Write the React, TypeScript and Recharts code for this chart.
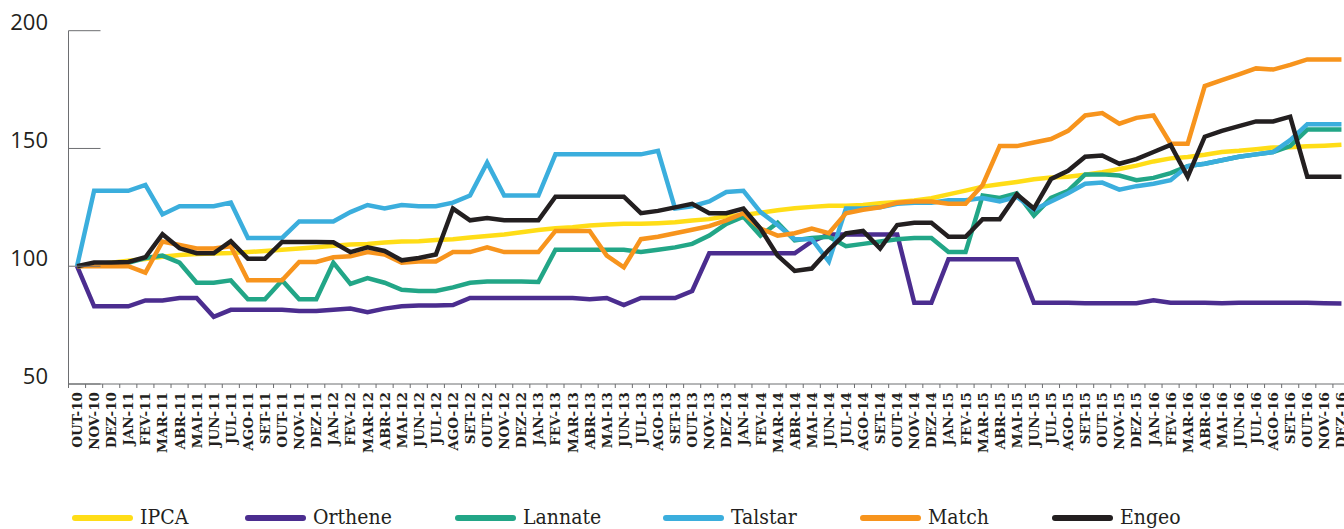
import React from 'react';
import { LineChart, Line, XAxis, YAxis, Legend } from 'recharts';

const months = [
  'OUT-10', 'NOV-10', 'DEZ-10',
  'JAN-11', 'FEV-11', 'MAR-11', 'ABR-11', 'MAI-11', 'JUN-11', 'JUL-11', 'AGO-11', 'SET-11', 'OUT-11', 'NOV-11', 'DEZ-11',
  'JAN-12', 'FEV-12', 'MAR-12', 'ABR-12', 'MAI-12', 'JUN-12', 'JUL-12', 'AGO-12', 'SET-12', 'OUT-12', 'NOV-12', 'DEZ-12',
  'JAN-13', 'FEV-13', 'MAR-13', 'ABR-13', 'MAI-13', 'JUN-13', 'JUL-13', 'AGO-13', 'SET-13', 'OUT-13', 'NOV-13', 'DEZ-13',
  'JAN-14', 'FEV-14', 'MAR-14', 'ABR-14', 'MAI-14', 'JUN-14', 'JUL-14', 'AGO-14', 'SET-14', 'OUT-14', 'NOV-14', 'DEZ-14',
  'JAN-15', 'FEV-15', 'MAR-15', 'ABR-15', 'MAI-15', 'JUN-15', 'JUL-15', 'AGO-15', 'SET-15', 'OUT-15', 'NOV-15', 'DEZ-15',
  'JAN-16', 'FEV-16', 'MAR-16', 'ABR-16', 'MAI-16', 'JUN-16', 'JUL-16', 'AGO-16', 'SET-16', 'OUT-16', 'NOV-16', 'DEZ-16',
];

const yTicks = [50, 100, 150, 200];

const ipca = [
  100, 100.8, 101.5,
  102.3, 103.1, 104.0, 104.8, 105.2, 105.4, 105.6, 106.0, 106.5, 107.0, 107.5, 108.1,
  108.7, 109.2, 109.4, 110.1, 110.5, 110.6, 111.1, 111.5, 112.2, 112.8, 113.5, 114.4,
  115.4, 116.1, 116.6, 117.3, 117.7, 118.0, 118.0, 118.3, 118.7, 119.4, 120.0, 121.2,
  121.8, 122.7, 123.8, 124.6, 125.2, 125.7, 125.7, 126.0, 126.7, 127.3, 127.9, 128.9,
  130.5, 132.1, 133.8, 134.8, 135.8, 136.9, 137.7, 138.0, 138.8, 139.9, 141.3, 142.7,
  144.5, 145.8, 146.4, 147.3, 148.5, 149.0, 149.7, 150.4, 150.5, 150.9, 151.2, 151.6,
];

const orthene = [
  100, 83, 83,
  83, 85.5, 85.5, 86.5, 86.5, 78.5, 81.5, 81.5, 81.5, 81.5, 81, 81,
  81.5, 82, 80.5, 82, 83, 83.3, 83.3, 83.5, 86.5, 86.5, 86.5, 86.5,
  86.5, 86.5, 86.5, 86, 86.5, 83.5, 86.5, 86.5, 86.5, 89.5, 105.5, 105.5,
  105.5, 105.5, 105.5, 105.5, 110.5, 113.5, 113.5, 113.5, 113.5, 113.5, 84.5, 84.5,
  103, 103, 103, 103, 103, 84.5, 84.5, 84.5, 84.3, 84.3, 84.3, 84.3,
  85.5, 84.5, 84.5, 84.5, 84.3, 84.5, 84.5, 84.5, 84.5, 84.5, 84.3, 84.2,
];

const lannate = [
  100, 100.5, 101,
  101.5, 103.5, 104.5, 101.5, 93, 93, 94, 86, 86, 94, 86, 86,
  101.5, 92.5, 95, 93, 90, 89.5, 89.5, 91, 93, 93.5, 93.5, 93.5,
  93.3, 107, 107, 107, 107, 107, 106, 107, 108, 109.5, 113, 118,
  121, 113, 118.5, 111, 112, 112.5, 108.5, 109.5, 110.5, 111.5, 112, 112,
  106, 106, 130, 129, 131, 121.5, 129, 132, 139, 139, 138.5, 136.5,
  137.5, 139.5, 142.5, 143.5, 145, 146.5, 147.5, 148.5, 151, 158, 158, 158,
];

const talstar = [
  100, 132, 132,
  132, 134.5, 122, 125.5, 125.5, 125.5, 127, 112, 112, 112, 119, 119,
  119, 123, 126, 124.5, 126, 125.5, 125.5, 127, 130, 144, 130, 130,
  130, 147.5, 147.5, 147.5, 147.5, 147.5, 147.5, 149, 124.5, 125.5, 127.5, 131.5,
  132, 123, 117.5, 111.5, 111.5, 102, 124.5, 124.5, 125, 126.5, 127, 127,
  128, 128, 129, 127.5, 129.5, 124, 127.5, 131, 135, 135.5, 132.5, 134,
  135, 136.5, 142.5, 143.5, 145, 146.5, 147.5, 148.5, 153.5, 160.3, 160.3, 160.3,
];

const match = [
  100, 100, 100,
  100, 97.3, 110.5, 109, 107.5, 107.5, 108.5, 94, 94, 94, 101.8, 101.8,
  103.8, 104.2, 106, 105, 101.5, 102, 102, 106, 106, 108, 106, 106,
  106, 115, 115, 115, 104.5, 99.5, 111.5, 112.5, 114, 115.5, 117, 119.5,
  122.5, 116, 113, 114, 116, 114, 122.5, 124, 125, 127, 127.5, 127.5,
  126.5, 126.5, 134.5, 151, 151, 152.5, 154, 157.5, 164, 165, 160.5, 163,
  164, 152, 152, 176.5, 179, 181.5, 184, 183.5, 185.5, 187.8, 187.8, 187.8,
];

const engeo = [
  100, 101.6, 101.6,
  101.8, 103.8, 113.6, 107.6, 105.5, 105.5, 110.6, 103.2, 103.2, 110.3, 110.3, 110.3,
  110.2, 106, 108, 106.5, 102.5, 103.5, 105, 124.5, 119.5, 120.5, 119.5, 119.5,
  119.5, 129.5, 129.5, 129.5, 129.5, 129.5, 122.5, 123.5, 125, 126.5, 122.5, 122.5,
  124.5, 116, 104.5, 98, 99, 107, 114, 115, 107.5, 117.5, 118.5, 118.5,
  112.5, 112.5, 120, 120, 130.5, 124.5, 137, 140.5, 146.5, 147, 143.5, 145.5,
  148.5, 151.5, 138, 155, 157.5, 159.5, 161.5, 161.5, 163.5, 138, 138, 138,
];

const series = [
  { key: 'IPCA', color: '#FFDD17', values: ipca },
  { key: 'Orthene', color: '#4B2D8F', values: orthene },
  { key: 'Lannate', color: '#22A687', values: lannate },
  { key: 'Talstar', color: '#3BAEDD', values: talstar },
  { key: 'Match', color: '#F7941D', values: match },
  { key: 'Engeo', color: '#231F20', values: engeo },
];

const data = months.map((m, i) => {
  const row: Record<string, string | number> = { month: m };
  series.forEach((s) => {
    row[s.key] = s.values[i];
  });
  return row;
});

const CHART_W = 1350;
const CHART_H = 529;
const AXIS_LEFT = 68.5;
const HALF_BAND = (CHART_W - AXIS_LEFT) / months.length / 2;
const AXIS_COLOR = '#6d6e71';
const TEXT_COLOR = '#231f20';

const legendX = [72, 245, 455, 663, 860, 1052];

function XTick(props: any) {
  const { x, y, payload } = props;
  const ty = y + 8;
  return (
    <g>
      <line x1={x - HALF_BAND} x2={x - HALF_BAND} y1={y} y2={y + 4} stroke={AXIS_COLOR} strokeWidth={1} />
      <text
        x={x}
        y={ty}
        transform={`rotate(-90 ${x} ${ty})`}
        textAnchor="end"
        dy={5}
        fontSize={13.5}
        fontWeight="bold"
        fontFamily="'DejaVu Serif', serif"
        fill={TEXT_COLOR}
      >
        {payload.value}
      </text>
    </g>
  );
}

function YTick(props: any) {
  const { x, y, payload } = props;
  return (
    <g>
      <line x1={x} x2={x + 32} y1={y} y2={y} stroke={AXIS_COLOR} strokeWidth={1} />
      <text x={x - 20.5} y={y - 0.5} textAnchor="end" fontSize={22} fontFamily="'Open Sans', sans-serif" fill={TEXT_COLOR}>
        {payload.value}
      </text>
    </g>
  );
}

function LegendContent() {
  return (
    <svg width={CHART_W} height={40} style={{ display: 'block' }}>
      {series.map((s, i) => (
        <g key={s.key}>
          <line x1={legendX[i] + 3} x2={legendX[i] + 58} y1={29} y2={29} stroke={s.color} strokeWidth={6} strokeLinecap="round" />
          <text x={legendX[i] + 68} y={34.5} fontSize={21} fontFamily="'DejaVu Serif Condensed', 'DejaVu Serif', serif" fontStretch="condensed" fill={TEXT_COLOR}>
            {s.key}
          </text>
        </g>
      ))}
    </svg>
  );
}

export default function App() {
  return (
    <div style={{ position: 'absolute', left: 0, top: 0, width: 1344, height: CHART_H, overflow: 'hidden', background: '#ffffff' }}>
      <LineChart width={CHART_W} height={CHART_H} data={data} margin={{ top: 30.7, right: 0, bottom: 0, left: 0 }}>
        <XAxis
          dataKey="month"
          interval={0}
          padding={{ left: HALF_BAND, right: HALF_BAND }}
          tickLine={false}
          tickSize={0}
          tickMargin={0}
          axisLine={{ stroke: AXIS_COLOR, strokeWidth: 1 }}
          height={105}
          tick={(p: any) => <XTick {...p} />}
        />
        <YAxis
          type="number"
          domain={[50, 200]}
          ticks={yTicks}
          width={AXIS_LEFT}
          tickLine={false}
          tickSize={0}
          tickMargin={0}
          axisLine={{ stroke: AXIS_COLOR, strokeWidth: 1 }}
          tick={(p: any) => <YTick {...p} />}
          allowDataOverflow
        />
        <Legend verticalAlign="bottom" height={40} content={() => <LegendContent />} wrapperStyle={{ left: 0, width: CHART_W }} />
        {series.map((s) => (
          <Line
            key={s.key}
            type="linear"
            dataKey={s.key}
            stroke={s.color}
            strokeWidth={4.5}
            dot={false}
            activeDot={false}
            isAnimationActive={false}
          />
        ))}
      </LineChart>
    </div>
  );
}
